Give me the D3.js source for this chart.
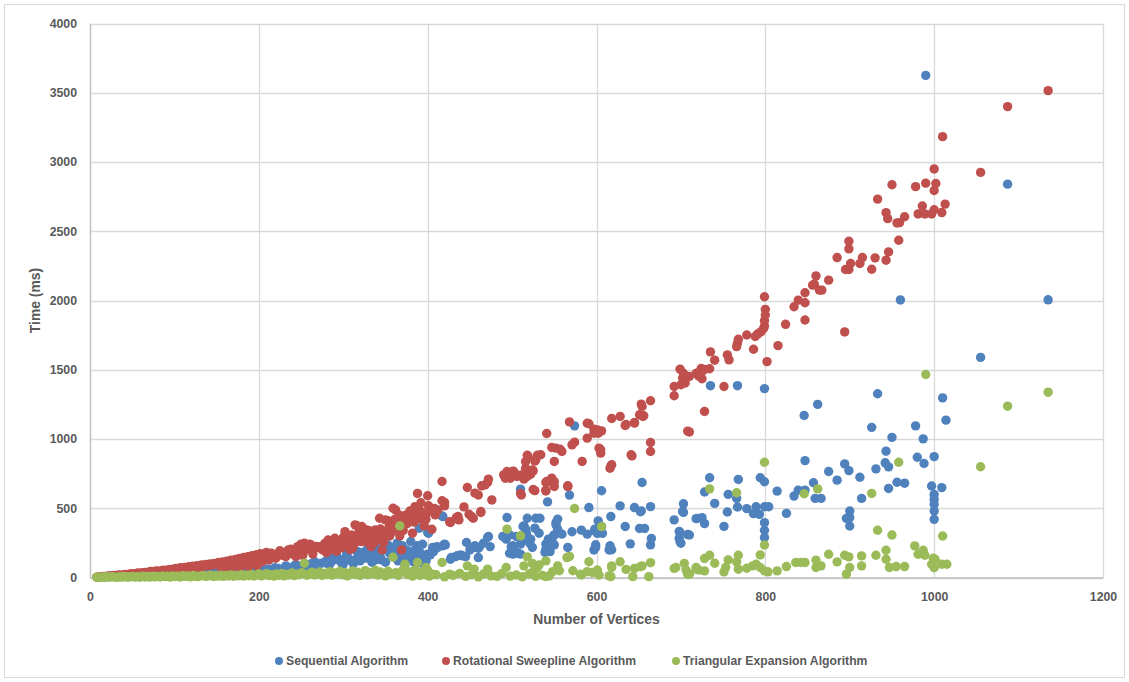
<!DOCTYPE html>
<html>
<head>
<meta charset="utf-8">
<script src="https://cdn.jsdelivr.net/npm/d3@7"></script>
<style>
  html, body { margin: 0; padding: 0; background: #ffffff; }
  svg { display: block; }
  .tick text { font-family: "Liberation Sans", Arial, sans-serif; font-weight: bold; font-size: 12.3px; fill: #595959; }
</style>
</head>
<body>
<svg id="chart" width="1129" height="682"></svg>
<script>
// Axis ticks
const xTicks = [0, 200, 400, 600, 800, 1000, 1200];
const yTicks = [0, 500, 1000, 1500, 2000, 2500, 3000, 3500, 4000];

// Series names and colours
const seriesNames = ["Sequential Algorithm", "Rotational Sweepline Algorithm", "Triangular Expansion Algorithm"];
const seriesColors = ["#4F81BD", "#C0504D", "#9BBB59"];

// Sequential Algorithm: [vertices, time ms]
const sequentialData = [
  [10,3],[14,6],[18,4],[22,9],[26,7],[30,12],[34,8],[38,14],[42,11],[46,17],[50,13],[54,20],[58,16],[62,22],[66,18],[70,26],[74,21],[78,28],[82,24],[86,31],[90,26],[94,34],[98,29],[102,37],[106,32],[110,41],[114,35],[118,44],[122,38],[126,48],[130,42],[134,52],[138,45],[142,55],[146,49],[150,60],[154,52],[158,63],[162,56],[166,67],[170,60],[174,71],[178,64],[182,75],[186,68],[190,79],[194,50],[198,70],
  [199,54],[203,48],[207,54],[211,62],[215,54],[219,70],[223,66],[227,58],[232,84],[235,73],[239,66],[243,90],[248,84],[251,83],[255,72],[258,91],[262,100],[264,96],[266,115],[270,88],[274,103],[278,110],[280,103],[280,121],[284,95],[284,140],[286,115],[290,130],[292,160],[294,139],[296,121],[298,105],[300,95],[302,127],[304,170],[306,140],[310,118],[312,100],[314,127],[316,190],[318,150],[320,120],[322,175],[322,181],[326,140],[328,200],[330,151],[332,181],[334,110],[335,133],[338,127],[340,210],[341,160],[344,150],[345,127],[349,241],[350,110],[351,200],[353,235],[355,175],[356,220],[358,150],[360,160],[362,187],[364,250],[365,120],[367,211],[367,133],[369,127],[370,230],[371,160],[373,181],[373,91],[375,199],[376,150],[377,187],[379,140],[380,260],[381,175],[383,115],[385,199],[386,130],[388,229],[390,356],[391,180],[392,144],[393,103],[394,240],[396,150],[398,120],[399,151],[400,325],[400,169],[401,320],[403,163],[406,193],[406,217],[407,187],[411,223],[412,217],[417,445],[418,229],[418,440],[420,241],[421,235],[427,132],[428,144],[433,151],[435,157],[439,163],[441,157],[445,151],[446,253],[450,199],[455,217],[456,229],[460,211],[460,144],[461,217],[466,247],[471,289],[472,296],[474,223],
  [489,296],[493,277],[494,433],[494,301],[497,308],[497,175],[499,223],[501,229],[501,169],[503,187],[505,296],[507,175],[510,638],[510,241],[510,169],[513,296],[513,368],[514,373],[516,349],[517,320],[517,271],[518,428],[521,247],[522,277],[524,217],[527,356],[528,428],[533,428],[532,320],[539,181],[540,241],[540,205],[542,546],[542,224],[543,277],[545,247],[545,187],[548,248],[549,301],[550,236],[550,308],[552,397],[552,380],[554,421],[554,349],[559,313],[566,217],[568,595],[571,330],[574,1095],[582,342],[589,313],[591,505],[597,199],[598,337],[598,349],[599,236],[599,217],[601,319],[602,409],[606,626],[606,368],[607,319],[615,199],[616,229],[617,440],[618,200],[628,517],[634,368],[640,243],[645,505],[651,354],[652,475],[653,481],[654,686],[657,354],[664,512],[664,236],[665,282],[692,416],[698,332],[698,284],[699,325],[699,258],[700,247],[702,477],[703,532],[703,470],[708,310],[719,426],
  [710,307],[718,425],[725,432],[728,389],[728,617],[734,720],[735,1385],[740,535],[751,369],[755,473],[756,600],[766,571],[767,509],[767,1385],[768,708],[778,497],[786,461],[789,511],[793,456],[794,720],[799,691],[799,511],[799,396],[799,341],[799,288],[799,1364],[804,511],[814,624],[825,463],[834,588],[839,631],[846,1170],[847,631],[847,844],[857,684],[859,571],[862,1250],[866,571],[875,765],[885,703],[894,820],[896,427],[899,772],[900,480],[900,432],[900,372],[912,724],[914,571],[926,1084],[931,784],[933,1327],[942,828],[943,912],[946,799],[946,643],[950,1012],[956,688],[960,2004],[965,681],[978,1095],[980,868],[987,1001],[988,823],[990,3625],[997,661],[1000,873],[1000,600],[1000,564],[1000,528],[1000,480],[1000,420],[1009,649],[1010,1297],[1014,1136],[1055,1589],[1087,2840],[1135,2005]
];

// Rotational Sweepline Algorithm: [vertices, time ms]
const rotationalData = [
  [8,3],[12,5],[15,8],[18,6],[20,10],[23,12],[25,9],[28,14],[30,12],[33,16],[35,18],[38,15],[40,20],[42,22],[45,19],[47,25],[50,27],[52,24],[55,30],[57,33],[60,28],[62,35],[65,37],[67,32],[70,40],[72,43],[75,38],[77,45],[80,47],[82,42],[85,50],[87,53],[90,48],[92,55],[95,58],[97,52],[100,62],
  [102,66],[105,58],[107,70],[110,64],[112,73],[115,68],[117,78],[120,72],[122,82],[125,76],[127,86],[130,70],[132,90],[135,80],[137,94],[140,85],[142,98],[145,90],[147,102],[150,95],[152,108],[155,75],[157,112],[158,60],[160,100],[162,118],[165,90],[167,125],[168,70],[170,108],[172,130],[175,95],[177,138],[178,75],[180,115],[182,145],[185,100],[187,150],[188,80],[190,125],[192,158],[195,110],[197,165],[198,85],[200,140],[202,172],
  [204,115],[207,151],[209,181],[212,127],[215,175],[218,150],[220,139],[222,170],[225,187],[225,193],[228,160],[232,151],[235,199],[238,205],[240,170],[242,175],[244,150],[246,223],[248,190],[250,241],[252,160],[254,247],[256,200],[258,215],[260,241],[262,235],[264,170],[266,210],[268,225],[272,223],[275,200],[278,245],[280,180],[282,271],[284,199],[286,230],[288,253],[290,283],[290,211],[292,190],[294,240],[296,259],[296,230],[298,215],[300,289],[302,331],[302,260],[304,247],[306,240],[307,277],[308,200],[310,307],[311,211],[312,230],[313,280],[314,380],[316,374],[318,307],[319,330],[320,260],[322,368],[323,260],[324,300],[326,283],[328,343],[329,300],[330,250],[332,337],[333,223],[334,320],[335,283],[337,253],[338,343],[339,270],[340,300],[342,313],[343,428],[344,350],[345,271],[346,199],[348,253],[349,300],[350,416],[352,330],[353,410],[354,360],[355,300],[357,392],[358,330],[359,500],[361,420],[362,488],[363,360],[365,380],[366,452],[367,301],[369,199],[370,400],[371,340],[374,450],[376,390],[377,428],[379,480],[380,452],[382,433],[382,320],[384,400],[385,512],[387,460],[388,607],[390,489],[392,540],[393,420],[394,470],[396,373],[398,420],[399,464],[400,590],[401,518],[403,488],[405,348],[408,498],[409,452],[412,488],
  [417,693],[417,554],[420,542],[420,517],[426,402],[427,397],[434,433],[436,440],[437,416],[443,510],[447,650],[449,457],[452,440],[454,428],[456,609],[460,596],[463,476],[463,469],[464,662],[468,669],[471,686],[472,710],[476,560],[490,741],[492,717],[494,765],[498,717],[501,768],[502,765],[505,741],[506,729],[510,607],[511,741],[511,596],[514,710],[516,837],[516,789],[518,883],[518,729],[519,874],[522,746],[524,777],[525,770],[525,635],[527,840],[527,627],[528,849],[530,883],[534,886],[540,630],[541,693],[541,1040],[543,693],[547,939],[547,717],[550,838],[550,657],[550,692],[540,686],[540,625],[552,934],[557,926],[559,910],[566,656],[566,662],[568,1124],[571,958],[574,977],[583,838],[589,1114],[589,1006],[591,1110],[597,1071],[597,1042],[601,1066],[602,1042],[603,934],[605,898],[605,922],[606,1059],[616,789],[617,805],[618,814],[618,1148],[628,1163],[634,1098],[635,1105],[641,886],[642,878],[645,1119],[645,1115],[651,1175],[653,1252],[654,1235],[655,1163],[656,1168],[664,1276],[664,975],[664,910],[692,1379],[692,1312],[699,1504],[702,1440],[703,1475],[705,1404],[700,1392],[708,1057],[719,1475],[721,1456],
  [710,1451],[710,1051],[718,1473],[724,1509],[725,1487],[725,1435],[728,1502],[728,1199],[734,1507],[735,1629],[740,1569],[751,1379],[755,1607],[757,1571],[766,1667],[767,1691],[768,1720],[778,1751],[786,1648],[788,1740],[791,1759],[795,1775],[798,1799],[799,1816],[799,1854],[800,1895],[800,1936],[799,2027],[802,1559],[815,1674],[824,1828],[834,1955],[839,2003],[847,1984],[847,1859],[847,2056],[856,2111],[858,2118],[860,2178],[864,2075],[867,2075],[875,2147],[885,2310],[894,1773],[895,2224],[899,2224],[899,2373],[899,2428],[901,2267],[912,2267],[915,2310],[926,2226],[930,2308],[933,2732],[943,2291],[943,2634],[945,2591],[946,2351],[950,2836],[956,2560],[958,2435],[959,2562],[965,2605],[978,2822],[981,2625],[986,2682],[989,2625],[990,2847],[997,2625],[1000,2950],[1000,2794],[1000,2655],[1002,2845],[1009,2635],[1010,3183],[1013,2696],[1055,2925],[1087,3400],[1135,3515]
];

// Triangular Expansion Algorithm: [vertices, time ms]
const triangularData = [
  [8,3],[11,1],[14,4],[17,2],[20,5],[23,2],[26,6],[29,3],[32,1],[35,5],[38,3],[41,7],[44,2],[47,4],[50,8],[53,3],[56,6],[59,2],[62,9],[65,4],[68,7],[71,3],[74,10],[77,5],[80,8],[83,4],[86,11],[89,6],[92,9],[95,3],[98,12],[101,7],[104,10],[107,4],[110,13],[113,8],[116,11],[119,5],[122,14],[125,9],[128,6],[131,12],[134,15],[137,8],[140,11],[143,16],[146,7],[149,13],[152,10],[155,17],[158,8],[161,14],[164,11],[167,18],[170,9],[173,15],[176,12],[179,20],[182,10],[185,16],[188,13],[191,22],[194,11],[197,17],[200,25],[203,12],[206,19],[209,28],[212,14],[215,21],[218,10],[221,26],[224,15],[227,30],[230,12],[233,22],[236,18],[239,33],[242,14],[245,24],[248,20],[251,35],[254,103],[257,16],[260,27],[263,38],[266,18],[269,25],[272,40],[275,15],[278,30],[281,22],[284,42],[287,17],[290,32],[293,25],[296,45],[299,20],[302,35],[305,12],[308,28],[311,48],[314,22],[317,38],[320,15],[323,30],[326,50],[329,20],[332,36],[335,26],[338,52],[341,18],[344,40],[347,30],[350,12],[353,45],[356,25],[359,146],[362,35],[365,15],[367,373],[370,48],[373,96],[376,22],[379,40],[382,10],[385,55],[388,28],[391,15],[394,42],[397,20],[400,50],
  [382,36],[388,108],[398,72],[402,10],[406,24],[410,20],[417,108],[420,5],[426,24],[430,15],[438,30],[445,8],[447,84],[452,20],[455,60],[460,5],[466,25],[471,60],[475,12],[482,8],[488,30],[493,72],[494,349],[498,10],[505,18],[510,301],[512,5],[514,84],[518,149],[520,25],[524,102],[524,36],[528,8],[530,72],[532,90],[536,15],[540,120],[540,6],[544,12],[548,42],[554,84],[556,49],[565,144],[568,152],[572,49],[574,498],[581,24],[582,18],[589,42],[591,114],[595,36],[601,54],[603,18],[606,367],[615,12],[617,6],[618,73],[618,84],[628,114],[635,59],[643,6],[645,66],[652,78],[654,84],[662,6],[664,107],[692,66],[694,72],[704,102],[706,54],[708,24],[718,60],[721,54],
  [710,24],[718,72],[728,137],[728,48],[734,161],[734,640],[740,103],[751,41],[753,72],[756,127],[766,113],[766,612],[768,161],[768,60],[778,67],[785,84],[789,96],[794,163],[794,72],[799,48],[799,235],[799,832],[803,41],[814,48],[825,79],[836,108],[842,108],[846,605],[847,108],[860,125],[860,72],[862,640],[866,84],[875,168],[885,113],[894,161],[896,24],[899,149],[900,72],[914,156],[914,84],[926,607],[931,161],[933,341],[943,197],[943,132],[947,72],[950,307],[955,79],[958,832],[965,79],[977,228],[981,168],[987,197],[989,161],[990,1466],[997,96],[999,139],[1000,71],[1001,132],[1009,96],[1010,300],[1015,96],[1055,800],[1087,1237],[1135,1338]
];

const allSeries = [sequentialData, rotationalData, triangularData];

const svg = d3.select("#chart");
const W = 1129, H = 682;
const plot = { left: 90, right: 1103, top: 23.5, bottom: 577.5 };

// Chart border
svg.append("rect")
  .attr("x", 4.5).attr("y", 4.5)
  .attr("width", W - 9).attr("height", H - 9)
  .attr("fill", "#ffffff")
  .attr("stroke", "#d9d9d9").attr("stroke-width", 1);

const x = d3.scaleLinear().domain([0, 1200]).range([plot.left, plot.right]);
const y = d3.scaleLinear().domain([0, 4000]).range([plot.bottom, plot.top]);

// Gridlines
const grid = svg.append("g").attr("class", "grid");
grid.selectAll("line.h").data(yTicks).join("line")
  .attr("class", "h")
  .attr("x1", plot.left).attr("x2", plot.right)
  .attr("y1", d => Math.round(y(d)) + 0.5).attr("y2", d => Math.round(y(d)) + 0.5)
  .attr("stroke", "#d9d9d9").attr("stroke-width", 1.3);
grid.selectAll("line.v").data(xTicks).join("line")
  .attr("class", "v")
  .attr("y1", plot.top).attr("y2", plot.bottom)
  .attr("x1", d => Math.round(x(d)) + 0.5).attr("x2", d => Math.round(x(d)) + 0.5)
  .attr("stroke", "#d9d9d9").attr("stroke-width", 1.3);

// Axes
const xAxis = svg.append("g")
  .attr("transform", `translate(0,${plot.bottom})`)
  .call(d3.axisBottom(x).tickValues(xTicks).tickSize(0).tickPadding(15).tickFormat(d3.format("d")));
const yAxis = svg.append("g")
  .attr("transform", `translate(${plot.left},0)`)
  .call(d3.axisLeft(y).tickValues(yTicks).tickSize(0).tickPadding(13).tickFormat(d3.format("d")));
xAxis.select(".domain").attr("stroke", "#bfbfbf").attr("stroke-width", 1.3);
yAxis.select(".domain").attr("stroke", "#bfbfbf").attr("stroke-width", 1.3);

// Points: series drawn in order so later series sit on top
const marks = svg.append("g").attr("class", "marks");
allSeries.forEach((data, i) => {
  marks.append("g")
    .selectAll("circle").data(data).join("circle")
    .attr("cx", d => x(d[0]))
    .attr("cy", d => y(d[1]))
    .attr("r", 4.7)
    .attr("fill", seriesColors[i]);
});

// Axis titles
const titleFont = "'Liberation Sans', Arial, sans-serif";
svg.append("text")
  .attr("x", (plot.left + plot.right) / 2).attr("y", 624)
  .attr("text-anchor", "middle")
  .attr("font-family", titleFont).attr("font-weight", "bold").attr("font-size", 13.9)
  .attr("fill", "#595959")
  .text("Number of Vertices");
svg.append("text")
  .attr("transform", `translate(40,${(plot.top + plot.bottom) / 2}) rotate(-90)`)
  .attr("text-anchor", "middle")
  .attr("font-family", titleFont).attr("font-weight", "bold").attr("font-size", 13.9)
  .attr("fill", "#595959")
  .text("Time (ms)");

// Legend
const legendX = [279, 446, 676];
const legend = svg.append("g").attr("class", "legend");
seriesNames.forEach((name, i) => {
  const g = legend.append("g").attr("transform", `translate(${legendX[i]},661)`);
  g.append("circle").attr("cx", 0).attr("cy", 0).attr("r", 4).attr("fill", seriesColors[i]);
  g.append("text").attr("x", 7).attr("y", 4.3)
    .attr("font-family", titleFont).attr("font-weight", "bold").attr("font-size", 12.2)
    .attr("fill", "#595959")
    .text(name);
});
</script>
</body>
</html>
